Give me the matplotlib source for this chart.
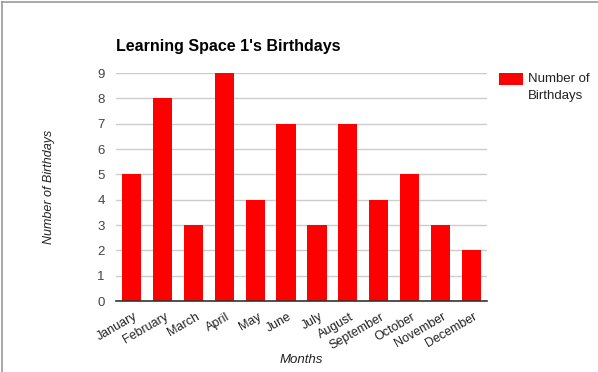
import matplotlib
matplotlib.use("Agg")
import matplotlib.pyplot as plt
from matplotlib.lines import Line2D
from matplotlib.patches import Rectangle
from matplotlib.transforms import ScaledTranslation

months = ["January", "February", "March", "April", "May", "June", "July",
          "August", "September", "October", "November", "December"]
birthdays = [5, 8, 3, 9, 4, 7, 3, 7, 4, 5, 3, 2]
series_name = "Number of\nBirthdays"
title = "Learning Space 1's Birthdays"
bar_color = "#ff0000"

plt.rcParams['font.family'] = ['Liberation Sans', 'DejaVu Sans']

W, H = 598, 372
fig = plt.figure(figsize=(W / 100, H / 100), dpi=100)
ax = fig.add_axes([116 / W, 1 - 301 / H, (487 - 116) / W, (301 - 73) / H])

x = range(len(months))
bars = ax.bar(x, birthdays, width=0.62, color=bar_color, zorder=3)
ax.set_xlim(-0.5, len(months) - 0.5)
ax.set_ylim(0, 9)
ax.set_yticks(range(0, 10))
ax.yaxis.grid(True, color="#cccccc", linewidth=1, zorder=0)
ax.tick_params(axis="y", length=0, pad=8, labelsize=9.5, labelcolor="#444444")
ax.tick_params(axis="x", length=0, pad=7, labelsize=9, labelcolor="#222222")
ax.set_xticks(list(x))
ax.set_xticklabels(months, rotation=30, ha="right", rotation_mode="anchor")
offset = ScaledTranslation(2 / 100, 0, fig.dpi_scale_trans)
for lab in ax.get_xticklabels():
    lab.set_transform(lab.get_transform() + offset)
for s in ["top", "right", "left"]:
    ax.spines[s].set_visible(False)
ax.spines["bottom"].set_color("#333333")
ax.spines["bottom"].set_linewidth(1.2)
ax.spines["bottom"].set_zorder(4)

fig.text(116 / W, 1 - 47 / H, title, fontsize=11.5, fontweight="bold",
         ha="left", va="center", color="#000000")
fig.text(49 / W, 1 - 187 / H, "Number of Birthdays", rotation=90, fontsize=9,
         style="italic", ha="center", va="center", color="#222222")
fig.text(301 / W, 1 - 360 / H, "Months", fontsize=9.5, style="italic",
         ha="center", va="center", color="#222222")

# legend (manual, to match the wrapped label layout)
fig.add_artist(Rectangle((499 / W, 1 - 85 / H), 24 / W, 12 / H,
                         transform=fig.transFigure, color=bar_color, lw=0))
fig.text(528 / W, 1 - 73 / H, series_name, fontsize=9.5, ha="left", va="top",
         color="#222222", linespacing=1.5)

fig.add_artist(Line2D([1.5 / W, 1.5 / W], [0, 1 - 1.5 / H],
                      transform=fig.transFigure, color="#999999", linewidth=1.2))
fig.add_artist(Line2D([1.5 / W, 1], [1 - 1.5 / H, 1 - 1.5 / H],
                      transform=fig.transFigure, color="#999999", linewidth=1.2))

fig.savefig("out.png", dpi=100)
